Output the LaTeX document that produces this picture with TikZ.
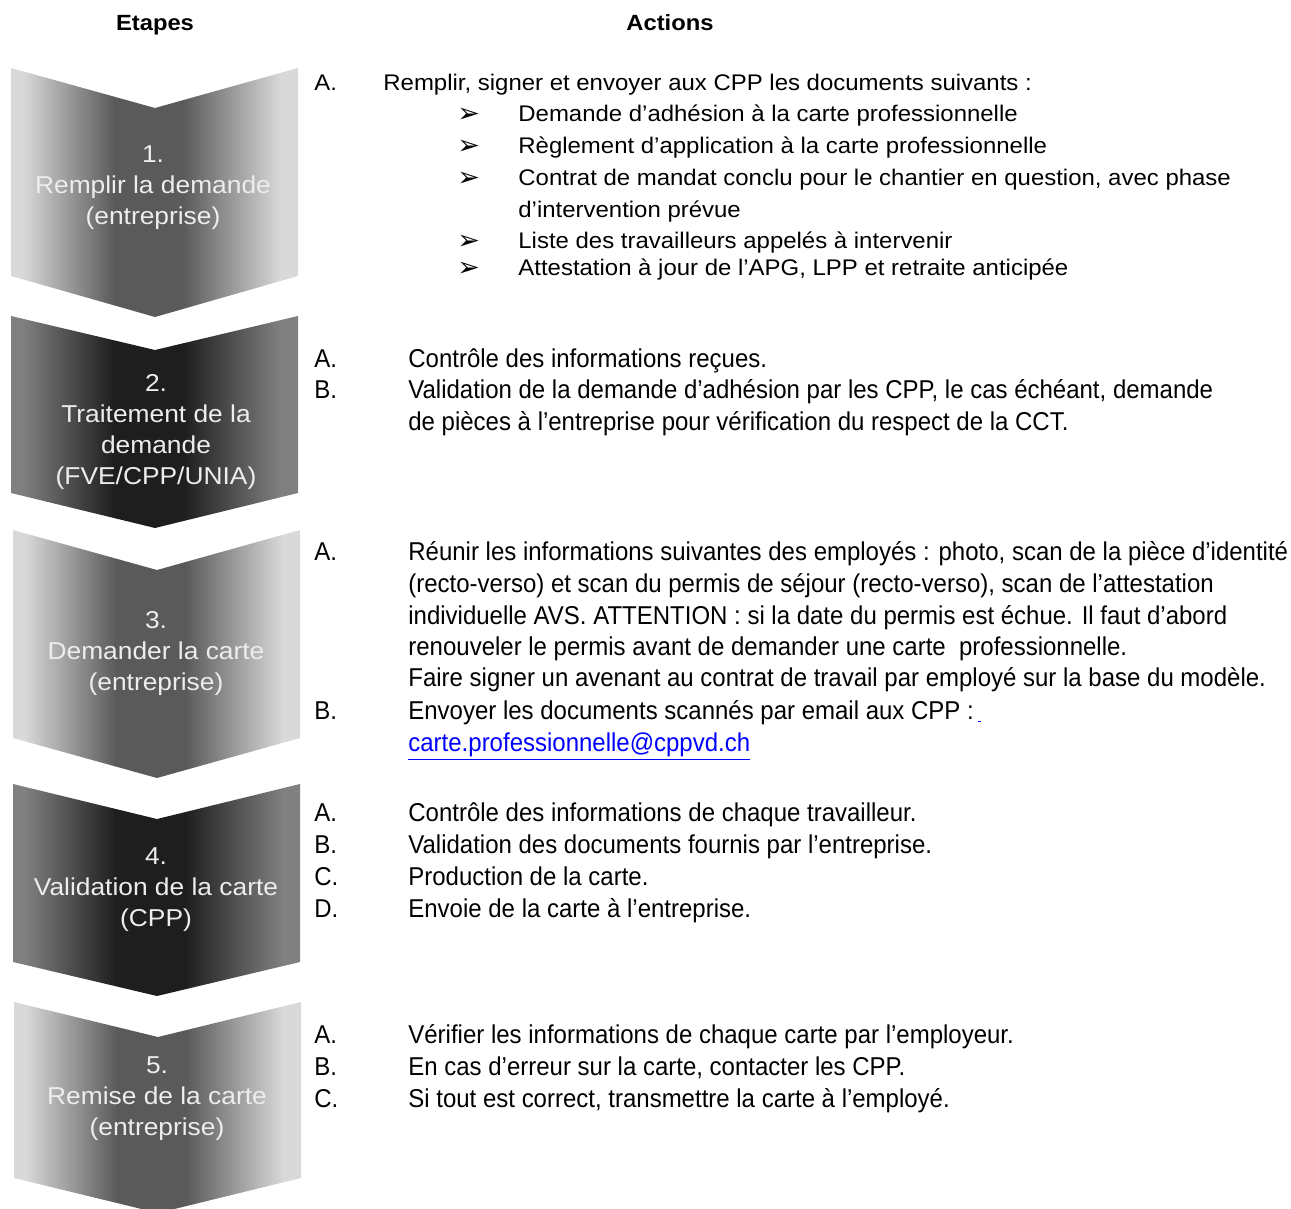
\documentclass[tikz,border=0pt]{standalone}
\usepackage{fontspec}
\usepackage{tikz}
\usetikzlibrary{positioning}

\setmainfont{Liberation Sans}
\newfontfamily\widefont[FakeStretch=1.06]{Liberation Sans}
\newfontfamily\stepfont[FakeStretch=1.08]{Liberation Sans}
\newfontfamily\narrowfont[FakeStretch=0.93]{Liberation Sans}
\newfontfamily\arrowfont{DejaVu Sans}

\definecolor{chevlight}{HTML}{D9D9D9}
\definecolor{chevmid}{HTML}{5A5A5A}
\definecolor{chevgrey}{HTML}{808080}
\definecolor{chevblack}{HTML}{1E1E1E}
\definecolor{linkblue}{HTML}{0000FF}

\pgfdeclarehorizontalshading{lightfade}{100bp}{color(0bp)=(chevlight); color(27bp)=(chevlight); color(43bp)=(chevmid); color(55bp)=(chevmid); color(72bp)=(chevlight); color(100bp)=(chevlight)}
\pgfdeclarehorizontalshading{darkfade}{100bp}{color(0bp)=(chevgrey); color(27bp)=(chevgrey); color(43bp)=(chevblack); color(55bp)=(chevblack); color(72bp)=(chevgrey); color(100bp)=(chevgrey)}

\begin{document}
\begin{tikzpicture}[
    x=0.5pt,
    y=-0.5pt
]

\tikzstyle{head}=[
    font=\stepfont\fontsize{11}{13}\selectfont\bfseries,
    anchor=base,
    inner sep=0pt
]
\tikzstyle{steplabel}=[
    font=\stepfont\fontsize{12.2}{15.5}\selectfont,
    text=white!93!black,
    align=center,
    inner sep=0pt
]
\tikzstyle{lightchev}=[shading=lightfade]
\tikzstyle{darkchev}=[shading=darkfade]
\tikzstyle{wideitem}=[
    font=\widefont\fontsize{11.3}{16}\selectfont,
    anchor=base west,
    inner sep=0pt
]
\tikzstyle{narrowitem}=[
    font=\narrowfont\fontsize{12.9}{16}\selectfont,
    anchor=base west,
    inner sep=0pt
]
\tikzstyle{bullet}=[
    font=\arrowfont\fontsize{13.5}{14}\selectfont,
    anchor=base west,
    inner sep=0pt
]

\useasboundingbox (0,0) rectangle (1291,1209);

% headers
\node[head] (hsteps) at (155,31) {Etapes};
\node[head] (hactions) at (670,31) {Actions};

% chevrons
\path[lightchev] (11,68) -- (155,108) -- (298,68) -- (298,276) -- (155,317) -- (11,276) -- cycle;
\path[darkchev] (11,316) -- (155,350) -- (298,316) -- (298,493) -- (155,528) -- (11,493) -- cycle;
\path[lightchev] (13,530) -- (157,570) -- (300,530) -- (300,738) -- (157,778) -- (13,738) -- cycle;
\path[darkchev] (13,784) -- (157,819) -- (300,784) -- (300,962) -- (157,996) -- (13,962) -- cycle;
\path[lightchev] (14,1002) -- (158,1037) -- (301,1002) -- (301,1178) -- (158,1213) -- (14,1178) -- cycle;

\node[steplabel] (step1) at (153,188) {1.\\Remplir la demande\\(entreprise)};
\node[steplabel] (step2) at (156,432) {2.\\Traitement de la\\demande\\(FVE/CPP/UNIA)};
\node[steplabel] (step3) at (156,654) {3.\\Demander la carte\\(entreprise)};
\node[steplabel] (step4) at (156,890) {4.\\Validation de la carte\\(CPP)};
\node[steplabel] (step5) at (157,1099) {5.\\Remise de la carte\\(entreprise)};

% actions 1
\node[wideitem] (a1A) at (314,91) {A.};
\node[wideitem] (a1Atext) at (383,91) {Remplir, signer et envoyer aux CPP les documents suivants :};
\node[bullet] (b1) at (457,123) {➢};
\node[wideitem] (b1text) at (518,122) {Demande d’adhésion à la carte professionnelle};
\node[bullet] (b2) at (457,155) {➢};
\node[wideitem] (b2text) at (518,154) {Règlement d’application à la carte professionnelle};
\node[bullet] (b3) at (457,187) {➢};
\node[wideitem] (b3text) at (518,186) {Contrat de mandat conclu pour le chantier en question, avec phase};
\node[wideitem] (b3more) at (518,218) {d’intervention prévue};
\node[bullet] (b4) at (457,250) {➢};
\node[wideitem] (b4text) at (518,249) {Liste des travailleurs appelés à intervenir};
\node[bullet] (b5) at (457,277) {➢};
\node[wideitem] (b5text) at (518,276) {Attestation à jour de l’APG, LPP et retraite anticipée};

% actions 2
\node[narrowitem] (a2A) at (314,367) {A.};
\node[narrowitem] (a2Atext) at (408,367) {Contrôle des informations reçues.};
\node[narrowitem] (a2B) at (314,399) {B.};
\node[narrowitem] (a2Btext) at (408,399) {Validation de la demande d’adhésion par les CPP, le cas échéant, demande};
\node[narrowitem] (a2Bmore) at (408,430) {de pièces à l’entreprise pour vérification du respect de la CCT.};

% actions 3
\node[narrowitem] (a3A) at (314,560) {A.};
\node[narrowitem] (a3Atext) at (408,560) {Réunir les informations suivantes des employés : photo, scan de la pièce d’identité};
\node[narrowitem] (a3Amore1) at (408,592) {(recto-verso) et scan du permis de séjour (recto-verso), scan de l’attestation};
\node[narrowitem] (a3Amore2) at (408,624) {individuelle AVS. ATTENTION : si la date du permis est échue. Il faut d’abord};
\node[narrowitem] (a3Amore3) at (408,655) {renouveler le permis avant de demander une carte\ \ professionnelle.};
\node[narrowitem] (a3Amore4) at (408,686) {Faire signer un avenant au contrat de travail par employé sur la base du modèle.};
\node[narrowitem] (a3B) at (314,719) {B.};
\node[narrowitem] (a3Btext) at (408,719) {Envoyer les documents scannés par email aux CPP :\,\textcolor{linkblue}{\underline{\hspace{1.5pt}}}};
\node[narrowitem, text=linkblue] (a3mail) at (408,751) {\underline{carte.professionnelle@cppvd.ch}};

% actions 4
\node[narrowitem] (a4A) at (314,821) {A.};
\node[narrowitem] (a4Atext) at (408,821) {Contrôle des informations de chaque travailleur.};
\node[narrowitem] (a4B) at (314,853) {B.};
\node[narrowitem] (a4Btext) at (408,853) {Validation des documents fournis par l’entreprise.};
\node[narrowitem] (a4C) at (314,885) {C.};
\node[narrowitem] (a4Ctext) at (408,885) {Production de la carte.};
\node[narrowitem] (a4D) at (314,917) {D.};
\node[narrowitem] (a4Dtext) at (408,917) {Envoie de la carte à l’entreprise.};

% actions 5
\node[narrowitem] (a5A) at (314,1043) {A.};
\node[narrowitem] (a5Atext) at (408,1043) {Vérifier les informations de chaque carte par l’employeur.};
\node[narrowitem] (a5B) at (314,1075) {B.};
\node[narrowitem] (a5Btext) at (408,1075) {En cas d’erreur sur la carte, contacter les CPP.};
\node[narrowitem] (a5C) at (314,1107) {C.};
\node[narrowitem] (a5Ctext) at (408,1107) {Si tout est correct, transmettre la carte à l’employé.};

\end{tikzpicture}
\end{document}
